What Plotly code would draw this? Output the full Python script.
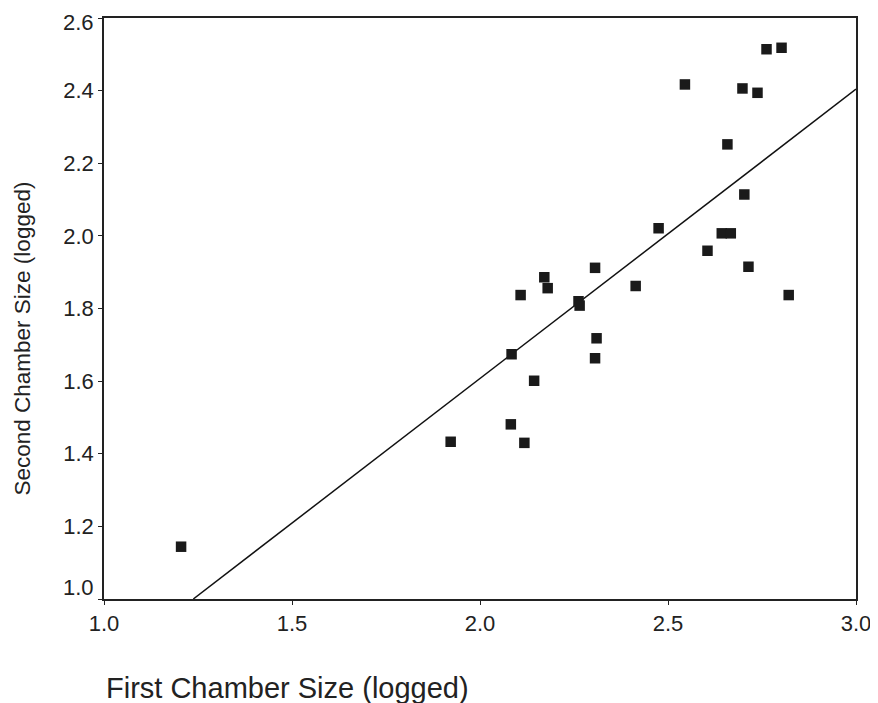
import plotly.graph_objects as go

# Data
first_chamber = [1.205, 1.922, 2.082, 2.084, 2.108, 2.118, 2.144, 2.171, 2.180,
                 2.262, 2.265, 2.306, 2.306, 2.310, 2.414, 2.475, 2.545, 2.605,
                 2.643, 2.667, 2.658, 2.698, 2.703, 2.714, 2.738, 2.762, 2.802,
                 2.821]
second_chamber = [1.144, 1.433, 1.481, 1.674, 1.837, 1.430, 1.601, 1.886, 1.856,
                  1.820, 1.808, 1.912, 1.663, 1.718, 1.862, 2.021, 2.417, 1.959,
                  2.007, 2.007, 2.252, 2.406, 2.114, 1.915, 2.394, 2.514, 2.518,
                  1.837]

# Fitted line endpoints
fit_x = [1.2375, 3.0]
fit_y = [1.0, 2.404]

x_ticks = [1.0, 1.5, 2.0, 2.5, 3.0]
x_tick_labels = ["1.0", "1.5", "2.0", "2.5", "3.0"]
y_ticks = [1.0, 1.2, 1.4, 1.6, 1.8, 2.0, 2.2, 2.4, 2.6]
y_tick_labels = ["1.0", "1.2", "1.4", "1.6", "1.8", "2.0", "2.2", "2.4", "2.6"]

x_title = "First Chamber Size (logged)"
y_title = "Second Chamber Size (logged)"

FONT = "Liberation Sans, Arial, Helvetica, sans-serif"
INK = "#222222"

# page has an 8px body margin, so the figure is 8px smaller each way
W, H = 870, 695
L, R, T, B = 96, 22, 10, 104
plot_h = H - T - B

fig = go.Figure()
fig.add_trace(go.Scatter(
    x=fit_x, y=fit_y, mode="lines",
    line=dict(color="#111111", width=1.5),
    hoverinfo="skip", showlegend=False,
))
fig.add_trace(go.Scatter(
    x=first_chamber, y=second_chamber, mode="markers",
    marker=dict(symbol="square", size=10.5, color="#1a1a1a",
                line=dict(width=0)),
    showlegend=False,
))

axis_common = dict(
    ticks="outside", ticklen=4, tickwidth=1, tickcolor=INK,
    showline=True, linecolor=INK, linewidth=1.5, mirror=True,
    showgrid=False, zeroline=False, automargin=False,
    ticklabeloverflow="allow",
    tickfont=dict(size=22, color=INK),
)

# end labels of the y axis are drawn as annotations (nudged inward like the
# reference); the middle ones use the axis' own labels
y_native_text = [""] + y_tick_labels[1:-1] + [""]
y_end_shift = {0: 12, len(y_ticks) - 1: -4}
y_end_annotations = [
    dict(text=y_tick_labels[i], x=0, xref="paper", y=y_ticks[i], yref="y",
         xanchor="right", yanchor="middle", xshift=-8, yshift=s,
         showarrow=False, font=dict(size=22, color=INK))
    for i, s in y_end_shift.items()
]

fig.update_layout(
    width=W, height=H,
    margin=dict(l=L, r=R, t=T, b=B, pad=0),
    paper_bgcolor="white", plot_bgcolor="white",
    font=dict(family=FONT, size=22, color=INK),
    xaxis=dict(range=[1.0, 3.0], tickvals=x_ticks, ticktext=x_tick_labels,
               **axis_common),
    yaxis=dict(range=[1.0, 2.6], tickvals=y_ticks, ticktext=y_native_text,
               **axis_common),
    annotations=y_end_annotations + [
        dict(text=x_title, x=0, xref="paper", y=-(89 / plot_h), yref="paper",
             showarrow=False, xanchor="left", yanchor="middle",
             font=dict(size=29, color=INK)),
        dict(text=y_title, textangle=-90, x=0, xref="paper", xshift=-82,
             y=0.5, yref="paper", yshift=-30,
             showarrow=False, xanchor="center", yanchor="middle",
             font=dict(size=22.5, color=INK)),
    ],
)
fig.write_html("out.html")
